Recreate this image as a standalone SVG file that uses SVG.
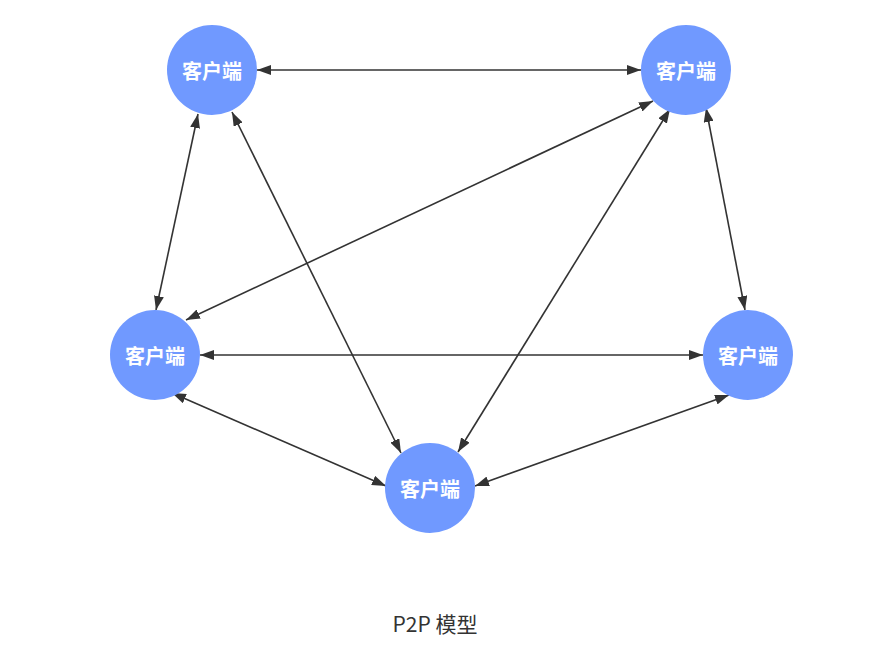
<svg xmlns="http://www.w3.org/2000/svg" width="869" height="670" viewBox="0 0 869 670">
<defs>
<marker id="ah" viewBox="0 0 14 10" refX="14" refY="5" markerWidth="14" markerHeight="10" markerUnits="userSpaceOnUse" orient="auto-start-reverse">
<path d="M0,0 L14,5 L0,10 Z" fill="#333333"/>
</marker>
<style>
.n{fill:#7099ff}
.t{fill:#ffffff;font-family:"Noto Sans CJK SC","Noto Sans",sans-serif;font-weight:bold;font-size:20px;text-anchor:middle;dominant-baseline:central}
.e{stroke:#333333;stroke-width:1.6;fill:none;marker-start:url(#ah);marker-end:url(#ah)}
.cap{fill:#333333;font-family:"Noto Sans CJK SC","Noto Sans",sans-serif;font-size:21px;text-anchor:middle}
</style>
</defs>
<rect width="869" height="670" fill="#ffffff"/>
<g id="connectors">
<line class="e" x1="257" y1="70" x2="641" y2="70"/>
<line class="e" x1="198" y1="114" x2="156" y2="310"/>
<line class="e" x1="232" y1="112" x2="401" y2="453"/>
<line class="e" x1="653" y1="101" x2="186" y2="320"/>
<line class="e" x1="670" y1="109" x2="458" y2="452"/>
<line class="e" x1="706" y1="108" x2="745" y2="310"/>
<line class="e" x1="200" y1="355" x2="703" y2="355"/>
<line class="e" x1="172" y1="393" x2="386" y2="486"/>
<line class="e" x1="475" y1="486" x2="729" y2="395"/>
</g>
<g id="node-tl"><circle class="n" cx="212" cy="70" r="45"/><text class="t" x="212" y="70">客户端</text></g>
<g id="node-tr"><circle class="n" cx="686" cy="70" r="45"/><text class="t" x="686" y="70">客户端</text></g>
<g id="node-ml"><circle class="n" cx="155" cy="355" r="45"/><text class="t" x="155" y="355">客户端</text></g>
<g id="node-mr"><circle class="n" cx="748" cy="355" r="45"/><text class="t" x="748" y="355">客户端</text></g>
<g id="node-b"><circle class="n" cx="430" cy="488" r="45"/><text class="t" x="430" y="488">客户端</text></g>
<text class="cap" x="435" y="632">P2P 模型</text>
</svg>
